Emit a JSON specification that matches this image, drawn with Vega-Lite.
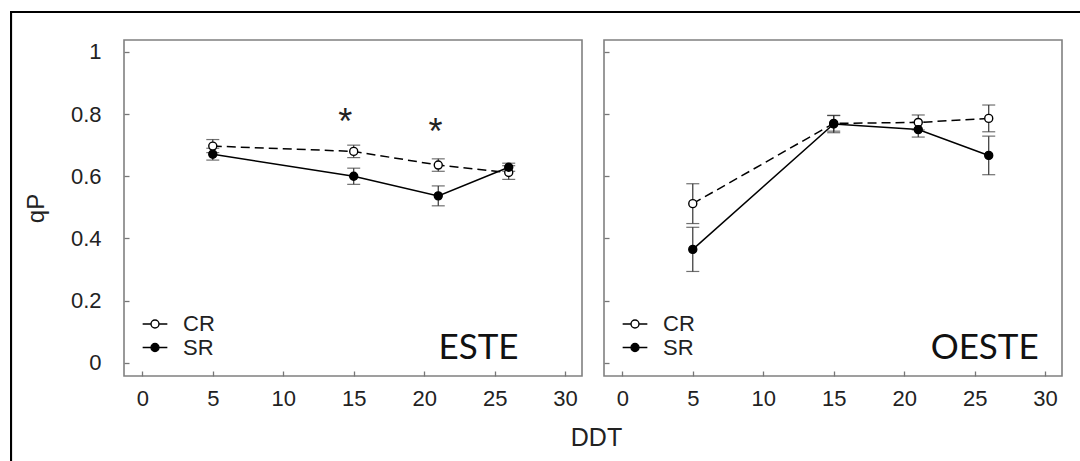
{
  "$schema": "https://vega.github.io/schema/vega-lite/v6.json",
  "background": "white",
  "padding": {"left": 10, "top": 11, "right": 0, "bottom": 0},
  "config": {
    "font": "Liberation Sans",
    "view": {"stroke": null},
    "axis": {
      "domain": false,
      "grid": false,
      "labelFont": "Liberation Sans",
      "labelFontSize": 22,
      "labelColor": "#222",
      "tickColor": "#777",
      "tickSize": -5,
      "tickWidth": 1.3,
      "titleFont": "Liberation Sans",
      "titleFontWeight": "normal",
      "titleColor": "#222"
    }
  },
  "datasets": {
    "qp": [
      {"region": "ESTE", "series": "CR", "ddt": 5, "qp": 0.697, "lo": 0.676, "hi": 0.718},
      {"region": "ESTE", "series": "CR", "ddt": 15, "qp": 0.680, "lo": 0.660, "hi": 0.700},
      {"region": "ESTE", "series": "CR", "ddt": 21, "qp": 0.636, "lo": 0.616, "hi": 0.656},
      {"region": "ESTE", "series": "CR", "ddt": 26, "qp": 0.612, "lo": 0.590, "hi": 0.634},
      {"region": "ESTE", "series": "SR", "ddt": 5, "qp": 0.671, "lo": 0.652, "hi": 0.690},
      {"region": "ESTE", "series": "SR", "ddt": 15, "qp": 0.600, "lo": 0.574, "hi": 0.626},
      {"region": "ESTE", "series": "SR", "ddt": 21, "qp": 0.537, "lo": 0.505, "hi": 0.569},
      {"region": "ESTE", "series": "SR", "ddt": 26, "qp": 0.629, "lo": 0.616, "hi": 0.642},
      {"region": "OESTE", "series": "CR", "ddt": 5, "qp": 0.512, "lo": 0.448, "hi": 0.576},
      {"region": "OESTE", "series": "CR", "ddt": 15, "qp": 0.770, "lo": 0.745, "hi": 0.795},
      {"region": "OESTE", "series": "CR", "ddt": 21, "qp": 0.773, "lo": 0.749, "hi": 0.797},
      {"region": "OESTE", "series": "CR", "ddt": 26, "qp": 0.786, "lo": 0.743, "hi": 0.829},
      {"region": "OESTE", "series": "SR", "ddt": 5, "qp": 0.365, "lo": 0.294, "hi": 0.436},
      {"region": "OESTE", "series": "SR", "ddt": 15, "qp": 0.768, "lo": 0.740, "hi": 0.796},
      {"region": "OESTE", "series": "SR", "ddt": 21, "qp": 0.750, "lo": 0.726, "hi": 0.774},
      {"region": "OESTE", "series": "SR", "ddt": 26, "qp": 0.667, "lo": 0.605, "hi": 0.729}
    ],
    "signif": [
      {"region": "ESTE", "ddt": 14.4, "y": 0.783, "sig": "*"},
      {"region": "ESTE", "ddt": 20.8, "y": 0.752, "sig": "*"}
    ]
  },
  "spacing": 0,
  "bounds": "flush",
  "vconcat": [
    {
      "width": 1075,
      "height": 0.1,
      "data": {"values": []},
      "mark": "point",
      "view": {"stroke": "black", "strokeWidth": 2}
    },
    {
      "spacing": 112,
      "bounds": "flush",
      "hconcat": [
        {
          "width": 0.1,
          "height": 460,
          "data": {"values": []},
          "mark": "point",
          "view": {"stroke": "black", "strokeWidth": 2}
        },
        {
          "spacing": 26,
          "bounds": "flush",
          "vconcat": [
            {"width": 1, "height": 0.1, "data": {"values": []}, "mark": "point"},
            {
              "spacing": 22,
              "bounds": "flush",
              "resolve": {"scale": {"fill": "independent"}, "legend": {"fill": "independent"}},
              "hconcat": [
                {
                  "width": 458,
                  "height": 336,
                  "view": {"stroke": "#808080", "strokeWidth": 1.6},
                  "layer": [
                    {
                      "data": {"name": "qp"},
                      "transform": [{"filter": "datum.region === 'ESTE'"}],
                      "mark": {"type": "rule", "color": "#333", "strokeWidth": 1.2},
                      "encoding": {
                        "x": {"field": "ddt", "type": "quantitative", "scale": {"domain": [-1.3, 31.2], "nice": false, "zero": false},
                          "axis": {"values": [0, 5, 10, 15, 20, 25, 30], "labelPadding": 17, "title": "DDT", "titleFontSize": 25, "titleX": 472, "titleY": 61, "titleBaseline": "middle"}},
                        "y": {"field": "lo", "type": "quantitative", "scale": {"domain": [-0.042, 1.038], "nice": false, "zero": false},
                          "axis": {"values": [0, 0.2, 0.4, 0.6, 0.8, 1], "format": "~g", "labelPadding": 28, "title": "qP", "titleFontSize": 24, "titleX": -88, "titleY": 168, "titleBaseline": "middle"}},
                        "y2": {"field": "hi"}
                      }
                    },
                    {
                      "data": {"name": "qp"},
                      "transform": [{"filter": "datum.region === 'ESTE'"}],
                      "mark": {"type": "tick", "orient": "horizontal", "color": "#333", "size": 13, "thickness": 1.2},
                      "encoding": {
                        "x": {"field": "ddt", "type": "quantitative", "scale": {"domain": [-1.3, 31.2], "nice": false, "zero": false}},
                        "y": {"field": "lo", "type": "quantitative", "scale": {"domain": [-0.042, 1.038], "nice": false, "zero": false}}
                      }
                    },
                    {
                      "data": {"name": "qp"},
                      "transform": [{"filter": "datum.region === 'ESTE'"}],
                      "mark": {"type": "tick", "orient": "horizontal", "color": "#333", "size": 13, "thickness": 1.2},
                      "encoding": {
                        "x": {"field": "ddt", "type": "quantitative", "scale": {"domain": [-1.3, 31.2], "nice": false, "zero": false}},
                        "y": {"field": "hi", "type": "quantitative", "scale": {"domain": [-0.042, 1.038], "nice": false, "zero": false}}
                      }
                    },
                    {
                      "data": {"name": "qp"},
                      "transform": [{"filter": "datum.region === 'ESTE' && datum.series === 'CR'"}],
                      "mark": {"type": "line", "color": "black", "strokeWidth": 1.5, "strokeDash": [9, 5]},
                      "encoding": {
                        "x": {"field": "ddt", "type": "quantitative", "scale": {"domain": [-1.3, 31.2], "nice": false, "zero": false}},
                        "y": {"field": "qp", "type": "quantitative", "scale": {"domain": [-0.042, 1.038], "nice": false, "zero": false}}
                      }
                    },
                    {
                      "data": {"name": "qp"},
                      "transform": [{"filter": "datum.region === 'ESTE' && datum.series === 'SR'"}],
                      "mark": {"type": "line", "color": "black", "strokeWidth": 1.5},
                      "encoding": {
                        "x": {"field": "ddt", "type": "quantitative", "scale": {"domain": [-1.3, 31.2], "nice": false, "zero": false}},
                        "y": {"field": "qp", "type": "quantitative", "scale": {"domain": [-0.042, 1.038], "nice": false, "zero": false}}
                      }
                    },
                    {
                      "data": {"name": "qp"},
                      "transform": [{"filter": "datum.region === 'ESTE'"}],
                      "mark": {"type": "point", "filled": true, "opacity": 1, "size": 64, "stroke": "black", "strokeWidth": 1.4},
                      "encoding": {
                        "x": {"field": "ddt", "type": "quantitative", "scale": {"domain": [-1.3, 31.2], "nice": false, "zero": false}},
                        "y": {"field": "qp", "type": "quantitative", "scale": {"domain": [-0.042, 1.038], "nice": false, "zero": false}},
                        "fill": {"field": "series", "type": "nominal", "scale": {"domain": ["CR", "SR"], "range": ["white", "black"]},
                          "legend": {"title": null, "orient": "none", "legendX": 20, "legendY": 273, "padding": 0, "rowPadding": 1.5,
                            "symbolType": "M-1.3,0L-0.42,0M0.42,0L1.3,0M-0.42,0A0.42,0.42,0,1,1,0.42,0A0.42,0.42,0,1,1,-0.42,0Z",
                            "symbolSize": 361, "symbolStrokeColor": "black", "symbolStrokeWidth": 1.4, "symbolOpacity": 1,
                            "labelFont": "Liberation Sans", "labelFontSize": 22, "labelColor": "#222", "labelOffset": 17}}
                      }
                    },
                    {
                      "data": {"name": "signif"},
                      "mark": {"type": "text", "font": "Liberation Sans", "fontSize": 36, "baseline": "alphabetic", "align": "center", "dy": 15, "color": "#222"},
                      "encoding": {
                        "x": {"field": "ddt", "type": "quantitative", "scale": {"domain": [-1.3, 31.2], "nice": false, "zero": false}},
                        "y": {"field": "y", "type": "quantitative", "scale": {"domain": [-0.042, 1.038], "nice": false, "zero": false}},
                        "text": {"field": "sig"}
                      }
                    },
                    {
                      "data": {"values": [{"region": "ESTE"}]},
                      "mark": {"type": "text", "font": "Lato", "fontSize": 35, "align": "right", "baseline": "alphabetic", "color": "#111"},
                      "encoding": {
                        "x": {"datum": 26.7, "type": "quantitative", "scale": {"domain": [-1.3, 31.2], "nice": false, "zero": false}},
                        "y": {"datum": 0.012, "type": "quantitative", "scale": {"domain": [-0.042, 1.038], "nice": false, "zero": false}},
                        "text": {"field": "region"}
                      }
                    }
                  ]
                },
                {
                  "width": 458,
                  "height": 336,
                  "view": {"stroke": "#808080", "strokeWidth": 1.6},
                  "layer": [
                    {
                      "data": {"name": "qp"},
                      "transform": [{"filter": "datum.region === 'OESTE'"}],
                      "mark": {"type": "rule", "color": "#333", "strokeWidth": 1.2},
                      "encoding": {
                        "x": {"field": "ddt", "type": "quantitative", "scale": {"domain": [-1.3, 31.2], "nice": false, "zero": false},
                          "axis": {"values": [0, 5, 10, 15, 20, 25, 30], "labelPadding": 17, "title": null}},
                        "y": {"field": "lo", "type": "quantitative", "scale": {"domain": [-0.042, 1.038], "nice": false, "zero": false},
                          "axis": {"values": [0, 0.2, 0.4, 0.6, 0.8, 1], "labels": false, "title": null}},
                        "y2": {"field": "hi"}
                      }
                    },
                    {
                      "data": {"name": "qp"},
                      "transform": [{"filter": "datum.region === 'OESTE'"}],
                      "mark": {"type": "tick", "orient": "horizontal", "color": "#333", "size": 13, "thickness": 1.2},
                      "encoding": {
                        "x": {"field": "ddt", "type": "quantitative", "scale": {"domain": [-1.3, 31.2], "nice": false, "zero": false}},
                        "y": {"field": "lo", "type": "quantitative", "scale": {"domain": [-0.042, 1.038], "nice": false, "zero": false}}
                      }
                    },
                    {
                      "data": {"name": "qp"},
                      "transform": [{"filter": "datum.region === 'OESTE'"}],
                      "mark": {"type": "tick", "orient": "horizontal", "color": "#333", "size": 13, "thickness": 1.2},
                      "encoding": {
                        "x": {"field": "ddt", "type": "quantitative", "scale": {"domain": [-1.3, 31.2], "nice": false, "zero": false}},
                        "y": {"field": "hi", "type": "quantitative", "scale": {"domain": [-0.042, 1.038], "nice": false, "zero": false}}
                      }
                    },
                    {
                      "data": {"name": "qp"},
                      "transform": [{"filter": "datum.region === 'OESTE' && datum.series === 'CR'"}],
                      "mark": {"type": "line", "color": "black", "strokeWidth": 1.5, "strokeDash": [9, 5]},
                      "encoding": {
                        "x": {"field": "ddt", "type": "quantitative", "scale": {"domain": [-1.3, 31.2], "nice": false, "zero": false}},
                        "y": {"field": "qp", "type": "quantitative", "scale": {"domain": [-0.042, 1.038], "nice": false, "zero": false}}
                      }
                    },
                    {
                      "data": {"name": "qp"},
                      "transform": [{"filter": "datum.region === 'OESTE' && datum.series === 'SR'"}],
                      "mark": {"type": "line", "color": "black", "strokeWidth": 1.5},
                      "encoding": {
                        "x": {"field": "ddt", "type": "quantitative", "scale": {"domain": [-1.3, 31.2], "nice": false, "zero": false}},
                        "y": {"field": "qp", "type": "quantitative", "scale": {"domain": [-0.042, 1.038], "nice": false, "zero": false}}
                      }
                    },
                    {
                      "data": {"name": "qp"},
                      "transform": [{"filter": "datum.region === 'OESTE'"}],
                      "mark": {"type": "point", "filled": true, "opacity": 1, "size": 64, "stroke": "black", "strokeWidth": 1.4},
                      "encoding": {
                        "x": {"field": "ddt", "type": "quantitative", "scale": {"domain": [-1.3, 31.2], "nice": false, "zero": false}},
                        "y": {"field": "qp", "type": "quantitative", "scale": {"domain": [-0.042, 1.038], "nice": false, "zero": false}},
                        "fill": {"field": "series", "type": "nominal", "scale": {"domain": ["CR", "SR"], "range": ["white", "black"]},
                          "legend": {"title": null, "orient": "none", "legendX": 20, "legendY": 273, "padding": 0, "rowPadding": 1.5,
                            "symbolType": "M-1.3,0L-0.42,0M0.42,0L1.3,0M-0.42,0A0.42,0.42,0,1,1,0.42,0A0.42,0.42,0,1,1,-0.42,0Z",
                            "symbolSize": 361, "symbolStrokeColor": "black", "symbolStrokeWidth": 1.4, "symbolOpacity": 1,
                            "labelFont": "Liberation Sans", "labelFontSize": 22, "labelColor": "#222", "labelOffset": 17}}
                      }
                    },
                    {
                      "data": {"values": [{"region": "OESTE"}]},
                      "mark": {"type": "text", "font": "Lato", "fontSize": 35, "align": "right", "baseline": "alphabetic", "color": "#111"},
                      "encoding": {
                        "x": {"datum": 29.55, "type": "quantitative", "scale": {"domain": [-1.3, 31.2], "nice": false, "zero": false}},
                        "y": {"datum": 0.012, "type": "quantitative", "scale": {"domain": [-0.042, 1.038], "nice": false, "zero": false}},
                        "text": {"field": "region"}
                      }
                    }
                  ]
                }
              ]
            }
          ]
        }
      ]
    }
  ]
}
